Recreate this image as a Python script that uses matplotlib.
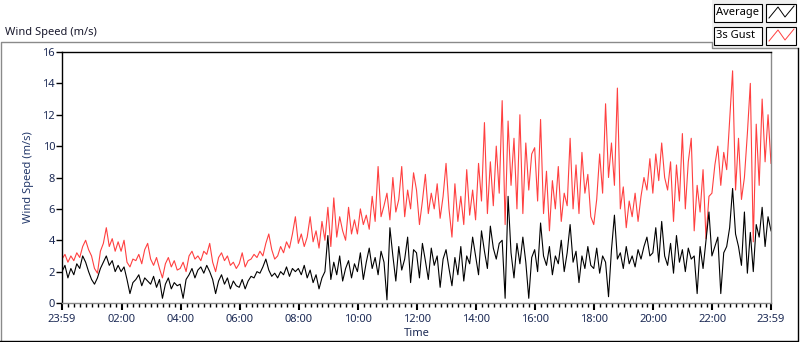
import numpy as np
import matplotlib
matplotlib.use("Agg")
import matplotlib.pyplot as plt
from matplotlib.lines import Line2D
from matplotlib.patches import Rectangle

plt.rcParams['font.family'] = ['Noto Sans', 'DejaVu Sans']

# ---- data (m/s), one value every 6 minutes from 23:59 to 23:59 ----
gust = [
    2.8, 3.1, 2.6, 3.0, 2.7, 3.2, 2.9, 3.6, 4.0, 3.4, 3.0, 2.2, 1.9, 3.3, 3.8, 4.8, 3.6, 4.1, 3.3, 3.9,
    3.3, 4.0, 2.6, 2.3, 2.8, 2.7, 3.1, 2.5, 3.4, 3.8, 2.8, 2.4, 2.9, 2.2, 1.6, 2.5, 2.9, 2.3, 2.7, 2.1,
    2.2, 2.6, 2.0, 3.0, 3.3, 2.8, 3.0, 2.7, 3.3, 3.1, 3.8, 2.6, 2.0, 2.9, 3.2, 2.7, 3.0, 2.4, 2.6, 2.2,
    2.5, 3.2, 2.3, 2.7, 2.8, 3.1, 2.9, 3.3, 3.0, 3.8, 4.4, 3.4, 2.8, 3.0, 3.6, 3.2, 3.9, 3.5, 4.4, 5.5,
    3.8, 4.4, 3.6, 4.2, 5.5, 3.9, 4.6, 3.5, 5.2, 4.0, 6.1, 3.6, 6.7, 4.2, 5.5, 4.6, 4.0, 6.1, 4.4, 5.3,
    4.4, 6.0, 5.0, 5.6, 4.7, 6.8, 5.2, 8.7, 5.5, 6.2, 7.0, 5.3, 8.0, 5.8, 6.6, 8.7, 5.5, 7.2, 6.0, 8.3,
    7.2, 5.0, 6.5, 8.2, 5.7, 7.0, 6.0, 7.6, 5.4, 6.8, 8.9, 6.0, 4.2, 7.6, 5.2, 6.8, 5.0, 8.5, 5.6, 7.2,
    5.3, 8.9, 6.5, 11.5, 5.7, 9.0, 6.2, 10.0, 7.0, 12.9, 5.0, 11.6, 7.5, 10.5, 6.0, 12.0, 5.7, 10.2, 7.2, 9.5,
    9.9, 6.5, 11.7, 5.7, 8.4, 4.6, 7.8, 6.0, 8.7, 5.2, 7.0, 6.2, 10.5, 6.0, 8.8, 5.7, 9.6, 7.0, 8.2, 5.5,
    5.0, 6.6, 9.5, 7.0, 12.7, 8.0, 10.2, 7.5, 13.7, 6.0, 7.4, 4.8, 6.5, 5.5, 7.0, 5.2, 6.8, 8.0, 7.2, 9.2,
    7.0, 9.5, 7.8, 10.2, 8.0, 7.2, 9.0, 5.2, 8.8, 6.5, 10.8, 6.0, 9.0, 10.5, 4.6, 7.5, 5.8, 8.5, 4.1, 6.8,
    7.0, 8.8, 10.0, 7.5, 9.6, 8.5, 11.6, 14.8, 7.2, 10.5, 6.6, 8.0, 10.8, 14.0, 3.9, 11.4, 7.5, 13.0, 9.0, 12.0, 8.9,
]
average = [
    2.0, 2.4, 1.6, 2.2, 1.8, 2.5, 2.2, 3.0, 2.6, 2.0, 1.5, 1.2, 1.6, 2.2, 2.6, 3.0, 2.4, 2.7, 2.0, 2.4,
    2.0, 2.3, 1.5, 0.6, 1.3, 1.5, 1.8, 1.1, 1.6, 1.4, 1.2, 1.7, 1.0, 1.5, 0.3, 1.2, 1.6, 0.9, 1.3, 1.1,
    1.2, 0.3, 1.5, 1.8, 2.2, 1.6, 2.1, 2.3, 1.9, 2.4, 2.0, 1.5, 0.6, 1.4, 1.8, 1.2, 1.6, 0.9, 1.4, 1.1,
    1.0, 1.5, 0.9, 1.4, 1.7, 1.6, 2.0, 1.9, 2.3, 2.8, 2.1, 1.7, 1.9, 1.6, 2.0, 1.8, 2.3, 1.7, 2.2, 2.0,
    2.2, 1.8, 2.4, 1.6, 2.1, 1.3, 1.8, 0.9, 1.6, 2.0, 4.3, 1.5, 2.6, 1.8, 3.0, 1.4, 2.2, 2.7, 1.6, 2.5,
    2.0, 3.2, 1.5, 2.6, 3.5, 2.2, 2.9, 1.8, 3.3, 2.6, 0.2, 4.8, 3.0, 1.4, 3.6, 2.1, 2.8, 4.2, 1.3, 3.4,
    3.2, 1.6, 3.8, 2.7, 1.5, 3.5, 2.4, 3.0, 1.0, 2.8, 3.4, 2.2, 1.1, 2.9, 1.8, 3.6, 1.4, 3.0, 2.5, 4.2,
    3.0, 1.8, 4.6, 3.3, 2.2, 4.9, 3.5, 2.8, 3.8, 4.0, 0.3, 6.8, 3.2, 1.6, 3.8, 2.5, 4.2, 2.6, 0.3, 2.9,
    3.4, 2.0, 5.1, 3.0, 2.4, 3.6, 1.8, 3.0, 2.5, 4.0, 2.0, 3.2, 5.0, 2.6, 3.3, 1.3, 3.0, 2.2, 3.6, 2.4,
    2.2, 3.5, 1.9, 3.0, 2.6, 0.4, 3.4, 5.6, 2.8, 3.2, 2.2, 3.6, 2.5, 3.0, 2.3, 3.4, 2.8, 3.6, 4.2, 3.0,
    3.2, 4.8, 2.6, 5.2, 3.0, 2.4, 3.8, 1.9, 4.3, 2.6, 3.4, 2.0, 3.5, 2.8, 3.0, 0.6, 3.6, 2.2, 4.0, 5.8,
    3.0, 3.6, 4.2, 0.6, 3.2, 3.6, 4.8, 7.3, 4.4, 3.6, 2.4, 5.8, 1.9, 4.5, 2.0, 5.0, 4.2, 6.1, 3.6, 5.5, 4.6,
]
start_minute = -1          # 23:59 of previous day
step_minutes = 6
tick_labels = ["23:59", "02:00", "04:00", "06:00", "08:00", "10:00", "12:00",
               "14:00", "16:00", "18:00", "20:00", "22:00", "23:59"]
tick_minutes = [-1, 120, 240, 360, 480, 600, 720, 840, 960, 1080, 1200, 1320, 1439]
series_names = ["Average", "3s Gust"]

minutes = start_minute + step_minutes * np.arange(len(gust))

W, H = 800, 342
fig = plt.figure(figsize=(W / 100, H / 100), dpi=100)
fig.patch.set_facecolor("white")

def fx(x):
    return x / W

def fy(y):
    return 1 - y / H

ax = fig.add_axes([fx(62), fy(303), fx(771) - fx(62), fy(52) - fy(303)])
ax.plot(minutes, gust, color="#ff4040", lw=0.8)
ax.plot(minutes, average, color="black", lw=0.8)

ax.set_xlim(-1, 1439)
ax.set_ylim(0, 16)
ax.set_yticks(np.arange(0, 17, 2))
ax.set_xticks(tick_minutes)
ax.set_xticklabels(tick_labels)
minor = [m for m in range(12, 1439, 12) if m not in tick_minutes]
ax.set_xticks(minor, minor=True)

navy = "#1c2a55"
ax.tick_params(axis="y", length=4, width=1, color="black", labelsize=8, labelcolor=navy, pad=1)
ax.tick_params(axis="x", which="major", length=5, width=1.5, color="black",
               labelsize=8, labelcolor=navy, pad=3)
ax.tick_params(axis="x", which="minor", length=3, width=1, color="black")

for s in ["left", "top"]:
    ax.spines[s].set_color("black")
    ax.spines[s].set_linewidth(1)
for s in ["right", "bottom"]:
    ax.spines[s].set_color("#8a8a8a")
    ax.spines[s].set_linewidth(1)

ax.set_ylabel("Wind Speed (m/s)", fontsize=8, color="#23386a", labelpad=6)
ax.set_xlabel("Time", fontsize=8, color=navy, labelpad=2)

# ---- frame decoration ----
def fline(pts, color, lw=1.0):
    xs = [fx(p[0]) for p in pts]
    ys = [fy(p[1]) for p in pts]
    fig.add_artist(Line2D(xs, ys, transform=fig.transFigure, color=color, lw=lw))

fig.add_artist(Rectangle((fx(712), fy(48)), fx(797) - fx(712), fy(0) - fy(48),
                         transform=fig.transFigure, facecolor="#f0f0f0", edgecolor="none"))
fline([(0.5, 340), (0.5, 42), (712, 42), (712, 48), (797, 48)], "#8a8a8a")
fline([(797.5, 48), (797.5, 340.5), (0, 340.5)], "black")

fig.text(fx(5), fy(32), "Wind Speed (m/s)", fontsize=8, color="#1a1a2e",
         ha="left", va="center")

# ---- legend ----
rows = [(4, 22), (27, 45)]
colors = ["black", "#ff4040"]
for (y0, y1), name, c in zip(rows, series_names, colors):
    fig.add_artist(Rectangle((fx(714), fy(y1)), fx(762) - fx(714), fy(y0) - fy(y1),
                             transform=fig.transFigure, facecolor="white",
                             edgecolor="black", lw=0.8))
    fig.text(fx(716), fy((y0 + y1) / 2), name, fontsize=8, color="black",
             ha="left", va="center")
    fig.add_artist(Rectangle((fx(766), fy(y1)), fx(796) - fx(766), fy(y0) - fy(y1),
                             transform=fig.transFigure, facecolor="white",
                             edgecolor="black", lw=0.8))
    fline([(769, y0 + 14), (778, y0 + 3), (785, y0 + 13), (794, y0 + 2)], c, lw=0.7)

fig.savefig("out.png", dpi=100)
